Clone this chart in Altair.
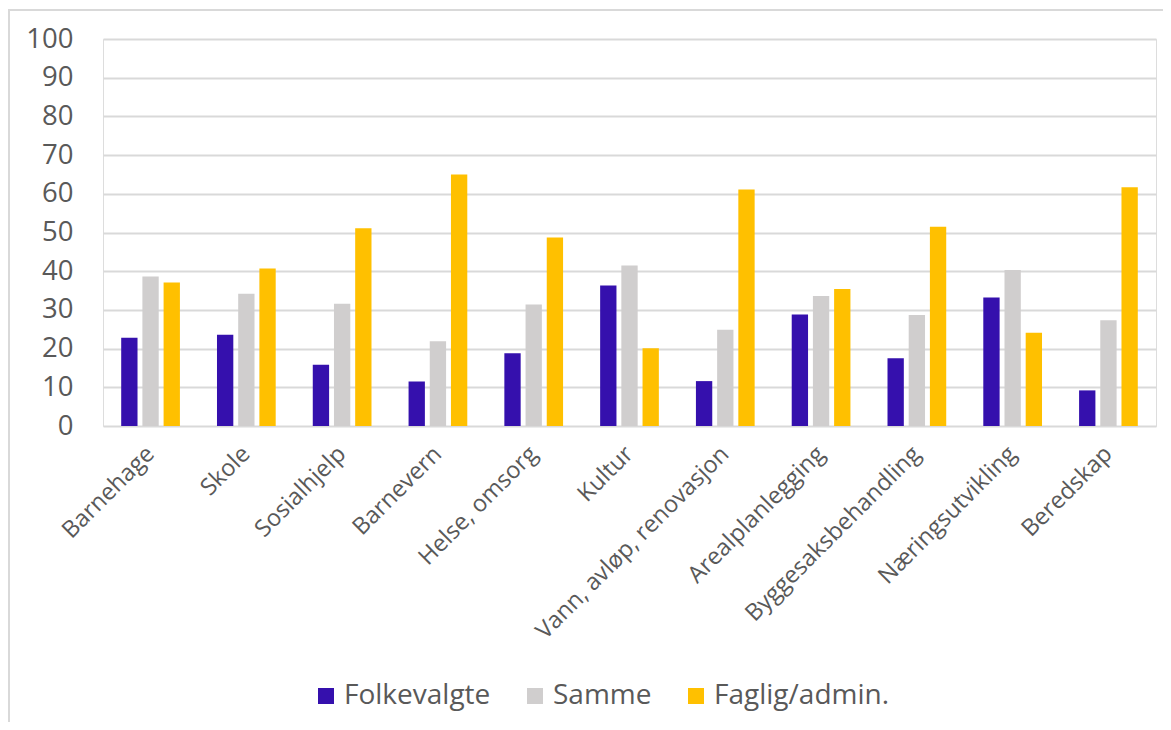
import altair as alt
import pandas as pd

categories = ["Barnehage", "Skole", "Sosialhjelp", "Barnevern", "Helse, omsorg", "Kultur",
              "Vann, avløp, renovasjon", "Arealplanlegging", "Byggesaksbehandling",
              "Næringsutvikling", "Beredskap"]
series = ["Folkevalgte", "Samme", "Faglig/admin."]
folkevalgte = [22.8, 23.6, 15.8, 11.5, 18.8, 36.3, 11.6, 28.8, 17.5, 33.2, 9.2]
samme = [38.6, 34.2, 31.6, 21.9, 31.4, 41.5, 24.9, 33.6, 28.7, 40.3, 27.3]
faglig = [37.1, 40.7, 51.1, 65.0, 48.7, 20.1, 61.1, 35.4, 51.5, 24.1, 61.7]
colors = ["#3510AD", "#D0CECE", "#FFC000"]
y_ticks = list(range(0, 101, 10))

rows = []
for s, vals in zip(series, [folkevalgte, samme, faglig]):
    for c, v in zip(categories, vals):
        rows.append({"Kategori": c, "Serie": s, "Verdi": v})
df = pd.DataFrame(rows)

FONT = "Open Sans"
GREY = "#595959"

bars = alt.Chart(df).mark_bar().encode(
    x=alt.X("Kategori:N", sort=categories, title=None,
            scale=alt.Scale(paddingInner=0.387, paddingOuter=0.19),
            axis=alt.Axis(labelAngle=-45, labelAlign="right", labelBaseline="middle",
                          labelPadding=24, ticks=False, domain=False, grid=False,
                          labelFontSize=23.5, labelColor=GREY, labelFont=FONT,
                          labelLimit=400)),
    xOffset=alt.XOffset("Serie:N", sort=series,
                        scale=alt.Scale(paddingInner=0.23, paddingOuter=0)),
    y=alt.Y("Verdi:Q", title=None,
            scale=alt.Scale(domain=[0, 100], nice=False),
            axis=alt.Axis(values=y_ticks, ticks=False, domain=False, labelPadding=30,
                          labelFontSize=27.5, labelColor=GREY, labelFont=FONT,
                          gridColor="#D9D9D9", gridWidth=2)),
    color=alt.Color("Serie:N", sort=series,
                    scale=alt.Scale(domain=series, range=colors),
                    legend=alt.Legend(title=None, orient="none", direction="horizontal",
                                      legendX=209, legendY=643,
                                      symbolType="square", symbolSize=256,
                                      symbolStrokeWidth=0, labelFontSize=28,
                                      labelColor=GREY, labelFont=FONT, labelLimit=400,
                                      labelOffset=4, columnPadding=30)),
)

border_top = alt.Chart(df).mark_rule(color="#D9D9D9", strokeWidth=2).encode(
    x=alt.value(-95), x2=alt.value(1060), y=alt.value(-29)
)
border_left = alt.Chart(df).mark_rule(color="#D9D9D9", strokeWidth=2).encode(
    x=alt.value(-94), y=alt.value(-29), y2=alt.value(700)
)

chart = alt.layer(bars, border_top, border_left).properties(
    width=1053, height=387,
    autosize=alt.AutoSizeParams(type="none"),
    padding={"left": 95, "top": 31, "right": 7, "bottom": 296},
).configure_view(stroke=None).configure(background="white")

chart.save("out.html", embed_options={"renderer": "svg", "actions": False})
